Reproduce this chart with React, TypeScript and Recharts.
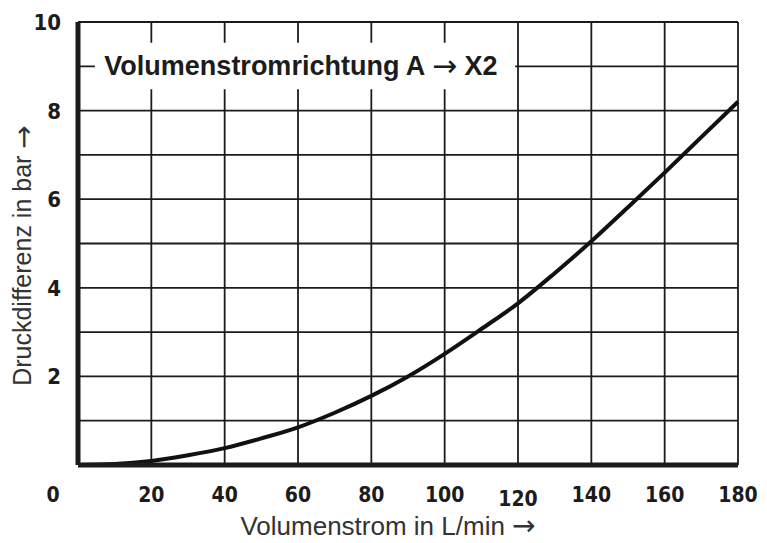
import { LineChart, Line, XAxis, YAxis, CartesianGrid, ReferenceArea, Label } from "recharts";

// Volumenstrom in L/min
const flow = [0, 10, 20, 30, 40, 50, 60, 70, 80, 90, 100, 110, 120, 130, 140, 150, 160, 170, 180];
// Druckdifferenz in bar
const pressure = [0, 0.02, 0.09, 0.22, 0.38, 0.6, 0.85, 1.18, 1.56, 2.0, 2.51, 3.07, 3.65, 4.33, 5.05, 5.82, 6.6, 7.4, 8.2];

const xTicks = [0, 20, 40, 60, 80, 100, 120, 140, 160, 180];
const yTicks = [0, 1, 2, 3, 4, 5, 6, 7, 8, 9, 10];
const yLabelled = [2, 4, 6, 8, 10];

const data = flow.map((q, i) => ({ q, dp: pressure[i] }));

const INK = "#1c1c1c";
const TICK_FONT = "'DejaVu Sans Condensed', 'Liberation Sans Narrow', sans-serif";
const LABEL_FONT = "'Liberation Sans', Arial, sans-serif";
const ARROW_FONT = "'DejaVu Sans', sans-serif";

function Arrow({ size, dy = 0 }: { size: number; dy?: number }) {
  return (
    <tspan fontFamily={ARROW_FONT} fontWeight="normal" fontSize={size} dy={dy}>
      {"\u2192"}
    </tspan>
  );
}

function XTick(props: any) {
  const { x, y, payload } = props;
  const v = payload.value;
  // the 0 sits out to the left under the y axis, 120 is a touch lower in the original
  const dx = v === 0 ? -25 : 0;
  const dy = v === 120 ? 4 : 0;
  return (
    <text
      x={x + dx}
      y={y + 29 + dy}
      textAnchor="middle"
      fill={INK}
      fontFamily={TICK_FONT}
      fontWeight="bold"
      fontSize={21}
    >
      {v}
    </text>
  );
}

function YTick(props: any) {
  const { x, y, payload } = props;
  if (!yLabelled.includes(payload.value)) return null;
  return (
    <text
      x={x - 9}
      y={y + 8}
      textAnchor="end"
      fill={INK}
      fontFamily={TICK_FONT}
      fontWeight="bold"
      fontSize={22}
    >
      {payload.value}
    </text>
  );
}

function YTitle(props: any) {
  const { viewBox } = props;
  const cx = viewBox.x + 22;
  const cy = viewBox.y + viewBox.height / 2 + 12;
  return (
    <text
      x={cx}
      y={cy}
      transform={`rotate(-90 ${cx} ${cy})`}
      textAnchor="middle"
      dominantBaseline="central"
      fill="#333"
      fontFamily={LABEL_FONT}
      fontSize={25}
    >
      Druckdifferenz in bar <Arrow size={28} dy={1} />
    </text>
  );
}

function XTitle(props: any) {
  const { viewBox } = props;
  return (
    <text
      x={viewBox.x + 310}
      y={viewBox.y + 70}
      textAnchor="middle"
      fill="#333"
      fontFamily={LABEL_FONT}
      fontSize={26}
    >
      Volumenstrom in L/min <Arrow size={28} />
    </text>
  );
}

function BoxTitle(p: any) {
  return (
    <text
      x={p.viewBox.x + p.viewBox.width / 2 - 4}
      y={p.viewBox.y + p.viewBox.height / 2 + 9}
      textAnchor="middle"
      fill={INK}
      fontFamily={LABEL_FONT}
      fontWeight="bold"
      fontSize={27}
    >
      Volumenstromrichtung A <Arrow size={30} dy={1} />
      <tspan dy={-1}> X2</tspan>
    </text>
  );
}

export default function App() {
  return (
    <div style={{ position: "absolute", left: 0, top: 0, width: 767, height: 543, background: "#fff" }}>
      <LineChart width={767} height={543} data={data} margin={{ top: 22, right: 29, left: 0, bottom: 0 }}>
        <CartesianGrid stroke={INK} strokeWidth={1.8} horizontalValues={yTicks} verticalValues={xTicks} />
        <XAxis
          type="number"
          dataKey="q"
          domain={[0, 180]}
          ticks={xTicks}
          height={78}
          tickLine={false}
          axisLine={{ stroke: INK, strokeWidth: 5 }}
          tick={<XTick />}
          interval={0}
        >
          <Label content={<XTitle />} />
        </XAxis>
        <YAxis
          type="number"
          domain={[0, 10]}
          ticks={yTicks}
          width={78}
          tickLine={false}
          axisLine={{ stroke: INK, strokeWidth: 5 }}
          tick={<YTick />}
          interval={0}
        >
          <Label content={<YTitle />} />
        </YAxis>
        <ReferenceArea x1={4.6} x2={119.2} y1={8.48} y2={9.53} fill="#fff" fillOpacity={1} stroke="none">
          <Label position="center" content={<BoxTitle />} />
        </ReferenceArea>
        <Line
          type="monotone"
          dataKey="dp"
          stroke="#111"
          strokeWidth={4}
          dot={false}
          isAnimationActive={false}
        />
      </LineChart>
    </div>
  );
}
